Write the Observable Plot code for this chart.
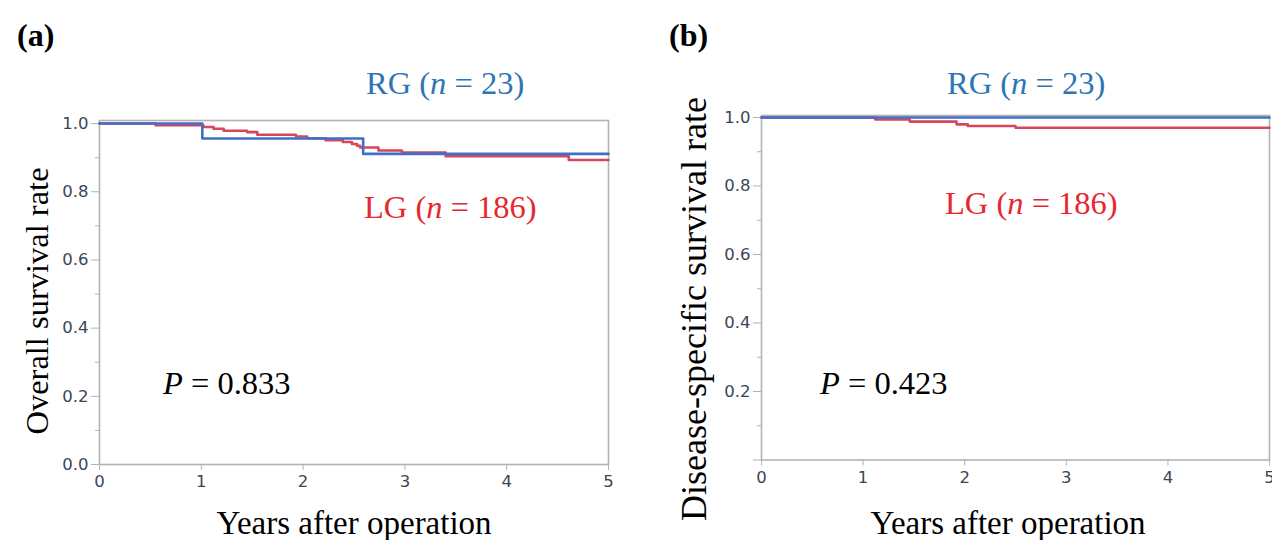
<!DOCTYPE html>
<html>
<head>
<meta charset="utf-8">
<script src="https://cdn.jsdelivr.net/npm/d3@7"></script>
<script src="https://cdn.jsdelivr.net/npm/@observablehq/plot@0.6"></script>
<style>
  body { margin: 0; background: #fff; }
  #wrap { position: relative; width: 1272px; height: 540px; overflow: hidden; background: #fff; }
  .pnl { position: absolute; top: 0; }
  .pnl text { font-size: 16.5px !important; font-family: "DejaVu Sans", Verdana, sans-serif; }
  .lbl { position: absolute; font-family: "Liberation Serif", "Times New Roman", serif; font-size: 32.5px; white-space: nowrap; line-height: 1; }
  .tag { position: absolute; font-family: "Liberation Serif", serif; font-weight: bold; font-size: 32px; line-height: 1; }
  .ylab { position: absolute; font-family: "Liberation Serif", serif; font-size: 32.5px; white-space: nowrap; line-height: 1; transform: translate(-50%, -50%) rotate(-90deg); }
  .xlab { position: absolute; font-family: "Liberation Serif", serif; font-size: 33px; white-space: nowrap; line-height: 1; transform: translate(-50%, -50%); }
  .blue { color: #2e75b6; }
  .red { color: #e8262d; }
</style>
</head>
<body>
<div id="wrap"></div>
<script>
// ---- Data: panel (a) overall survival ----
const rgTimeA = [0, 1.01, 2.59, 5];
const rgSurvA = [1.0, 0.956, 0.911, 0.911];
const lgTimeA = [0, 0.55, 1.02, 1.12, 1.22, 1.45, 1.55, 1.93, 2.04, 2.22, 2.39, 2.48, 2.53, 2.56, 2.74, 2.97, 3.40, 4.61, 5];
const lgSurvA = [1.0, 0.995, 0.990, 0.985, 0.979, 0.975, 0.967, 0.962, 0.957, 0.951, 0.946, 0.940, 0.935, 0.930, 0.921, 0.915, 0.904, 0.893, 0.893];

// ---- Data: panel (b) disease-specific survival ----
const rgTimeB = [0, 5];
const rgSurvB = [1.0, 1.0];
const lgTimeB = [0, 1.12, 1.46, 1.92, 2.03, 2.50, 5];
const lgSurvB = [1.0, 0.994, 0.988, 0.980, 0.975, 0.970, 0.970];

const xTicks = [0, 1, 2, 3, 4, 5];
const yMajor = [0, 0.2, 0.4, 0.6, 0.8, 1.0];
const yMinor = [0.1, 0.3, 0.5, 0.7, 0.9];

const blueLine = "#3f6fc6";
const redLine = "#d8455c";
const gray = "#b3b3b3";
const tickText = "#3a4656";
const tickFont = "DejaVu Sans, Verdana, sans-serif";

function rows(t, s) { return t.map((d, i) => ({t: d, s: s[i]})); }

function panel(opts) {
  return Plot.plot({
    width: opts.width,
    height: 540,
    marginLeft: opts.ml,
    marginRight: opts.mr,
    marginTop: opts.mt,
    marginBottom: opts.mb,
    style: { fontFamily: tickFont, fontSize: "16.5px", background: "white", overflow: "visible" },
    x: { domain: [0, 5] },
    y: { domain: [0, opts.ymax] },
    marks: [
      Plot.frame({ stroke: gray, strokeWidth: 1.6 }),
      Plot.axisY(yMajor, { tickSize: 8, tickPadding: 3, stroke: gray, fill: tickText, fontSize: 16.5,
        tickFormat: opts.hideZero ? (d => d === 0 ? "" : d3.format(".1f")(d)) : d3.format(".1f"), label: null }),
      Plot.axisY(yMinor, { tickSize: 4, stroke: gray, tickFormat: () => "", label: null }),
      Plot.axisX(xTicks, { tickSize: 6, tickPadding: 5, stroke: gray, fill: tickText, fontSize: 16.5,
        tickFormat: d3.format("d"), label: null }),
      Plot.line(rows(opts.lgT, opts.lgS), { x: "t", y: "s", curve: "step-after", stroke: redLine, strokeWidth: 2.6 }),
      Plot.line(rows(opts.rgT, opts.rgS), { x: "t", y: "s", curve: "step-after", stroke: blueLine, strokeWidth: 2.6 })
    ]
  });
}

const wrap = document.getElementById("wrap");

const pa = panel({ width: 640, ml: 99, mr: 32, mt: 120, mb: 76, ymax: 1.009,
  rgT: rgTimeA, rgS: rgSurvA, lgT: lgTimeA, lgS: lgSurvA, hideZero: false });
pa.classList.add("pnl"); pa.style.left = "0px";
wrap.appendChild(pa);

const pb = panel({ width: 632, ml: 121, mr: 3, mt: 115, mb: 80.5, ymax: 1.0058,
  rgT: rgTimeB, rgS: rgSurvB, lgT: lgTimeB, lgS: lgSurvB, hideZero: true });
pb.classList.add("pnl"); pb.style.left = "640px";
wrap.appendChild(pb);

function addHTML(cls, html, left, top, size) {
  const el = document.createElement("div");
  el.className = cls;
  el.innerHTML = html;
  el.style.left = left + "px";
  el.style.top = top + "px";
  if (size) el.style.fontSize = size + "px";
  wrap.appendChild(el);
  return el;
}

// panel tags
addHTML("tag", "(a)", 17, 19);
addHTML("tag", "(b)", 669, 19);

// annotations panel a
addHTML("lbl blue", "RG (<i>n</i> = 23)", 366, 67);
addHTML("lbl red", "LG (<i>n</i> = 186)", 364, 191);
addHTML("lbl", "<i>P</i> = 0.833", 163, 367);
// annotations panel b
addHTML("lbl blue", "RG (<i>n</i> = 23)", 947, 67);
addHTML("lbl red", "LG (<i>n</i> = 186)", 945, 187);
addHTML("lbl", "<i>P</i> = 0.423", 820, 367);

// axis titles
addHTML("ylab", "Overall survival rate", 37, 301);
addHTML("ylab", "Disease-specific survival rate", 694, 309, 36);
addHTML("xlab", "Years after operation", 354, 523);
addHTML("xlab", "Years after operation", 1008, 523);
</script>
</body>
</html>
